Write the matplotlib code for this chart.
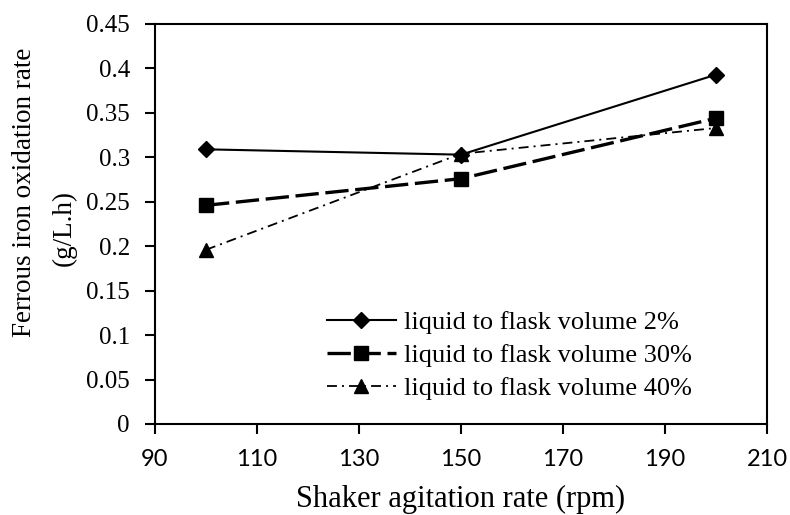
import matplotlib.pyplot as plt

agitation = [100, 150, 200]
rate_2pct = [0.309, 0.303, 0.393]
rate_30pct = [0.246, 0.276, 0.344]
rate_40pct = [0.196, 0.304, 0.333]
labels = ['liquid to flask volume 2%',
          'liquid to flask volume 30%',
          'liquid to flask volume 40%']
yticks = [0, 0.05, 0.1, 0.15, 0.2, 0.25, 0.3, 0.35, 0.4, 0.45]
ytick_labels = ['0', '0.05', '0.1', '0.15', '0.2', '0.25', '0.3',
                '0.35', '0.4', '0.45']

plt.rcParams['font.family'] = 'Liberation Serif'

W, H = 790, 515
fig = plt.figure(figsize=(W / 100, H / 100), dpi=100)
# axes box in pixels: left 155, right 767, top 24, bottom 424
ax = fig.add_axes([155 / W, 1 - 424 / H, (767 - 155) / W, (424 - 24) / H])

ax.plot(agitation, rate_2pct, color='black', lw=1.5, marker='D', ms=8,
        label=labels[0])
ax.plot(agitation, rate_30pct, color='black', lw=2.4, marker='s', ms=10,
        dashes=(7, 2), label=labels[1])
ax.plot(agitation, rate_40pct, color='black', lw=1.3, marker='^', ms=10,
        dashes=(5.5, 2.8, 1.1, 2.8), label=labels[2])

ax.set_xlim(90, 210)
ax.set_ylim(0, 0.45)
ax.set_xticks(range(90, 211, 20))
ax.set_yticks(yticks)
ax.set_yticklabels(ytick_labels)
ax.tick_params(direction='out', length=7, width=1.5)
ax.tick_params(axis='y', labelsize=18, pad=11)
ax.tick_params(axis='x', labelsize=17, pad=11)
for t in ax.get_xticklabels():
    t.set_family('Lato')
for s in ax.spines.values():
    s.set_linewidth(1.5)

ax.set_xlabel('Shaker agitation rate (rpm)', fontsize=22, labelpad=11)
# two-line y title, placed like the original wrapped text
fig.text(25 / W, 1 - 192 / H, 'Ferrous iron oxidation rate', rotation=90,
         fontsize=19.5, ha='center', va='center')
fig.text(64 / W, 1 - 228 / H, '(g/L.h)', rotation=90,
         fontsize=19.5, ha='center', va='center')

ax.legend(loc='upper left', bbox_to_anchor=(327 / W, 1 - 311 / H),
          bbox_transform=fig.transFigure, frameon=False, fontsize=19,
          handlelength=2.6, handletextpad=0.3, labelspacing=0.36,
          borderpad=0, borderaxespad=0)

fig.savefig('out.png', dpi=100)
